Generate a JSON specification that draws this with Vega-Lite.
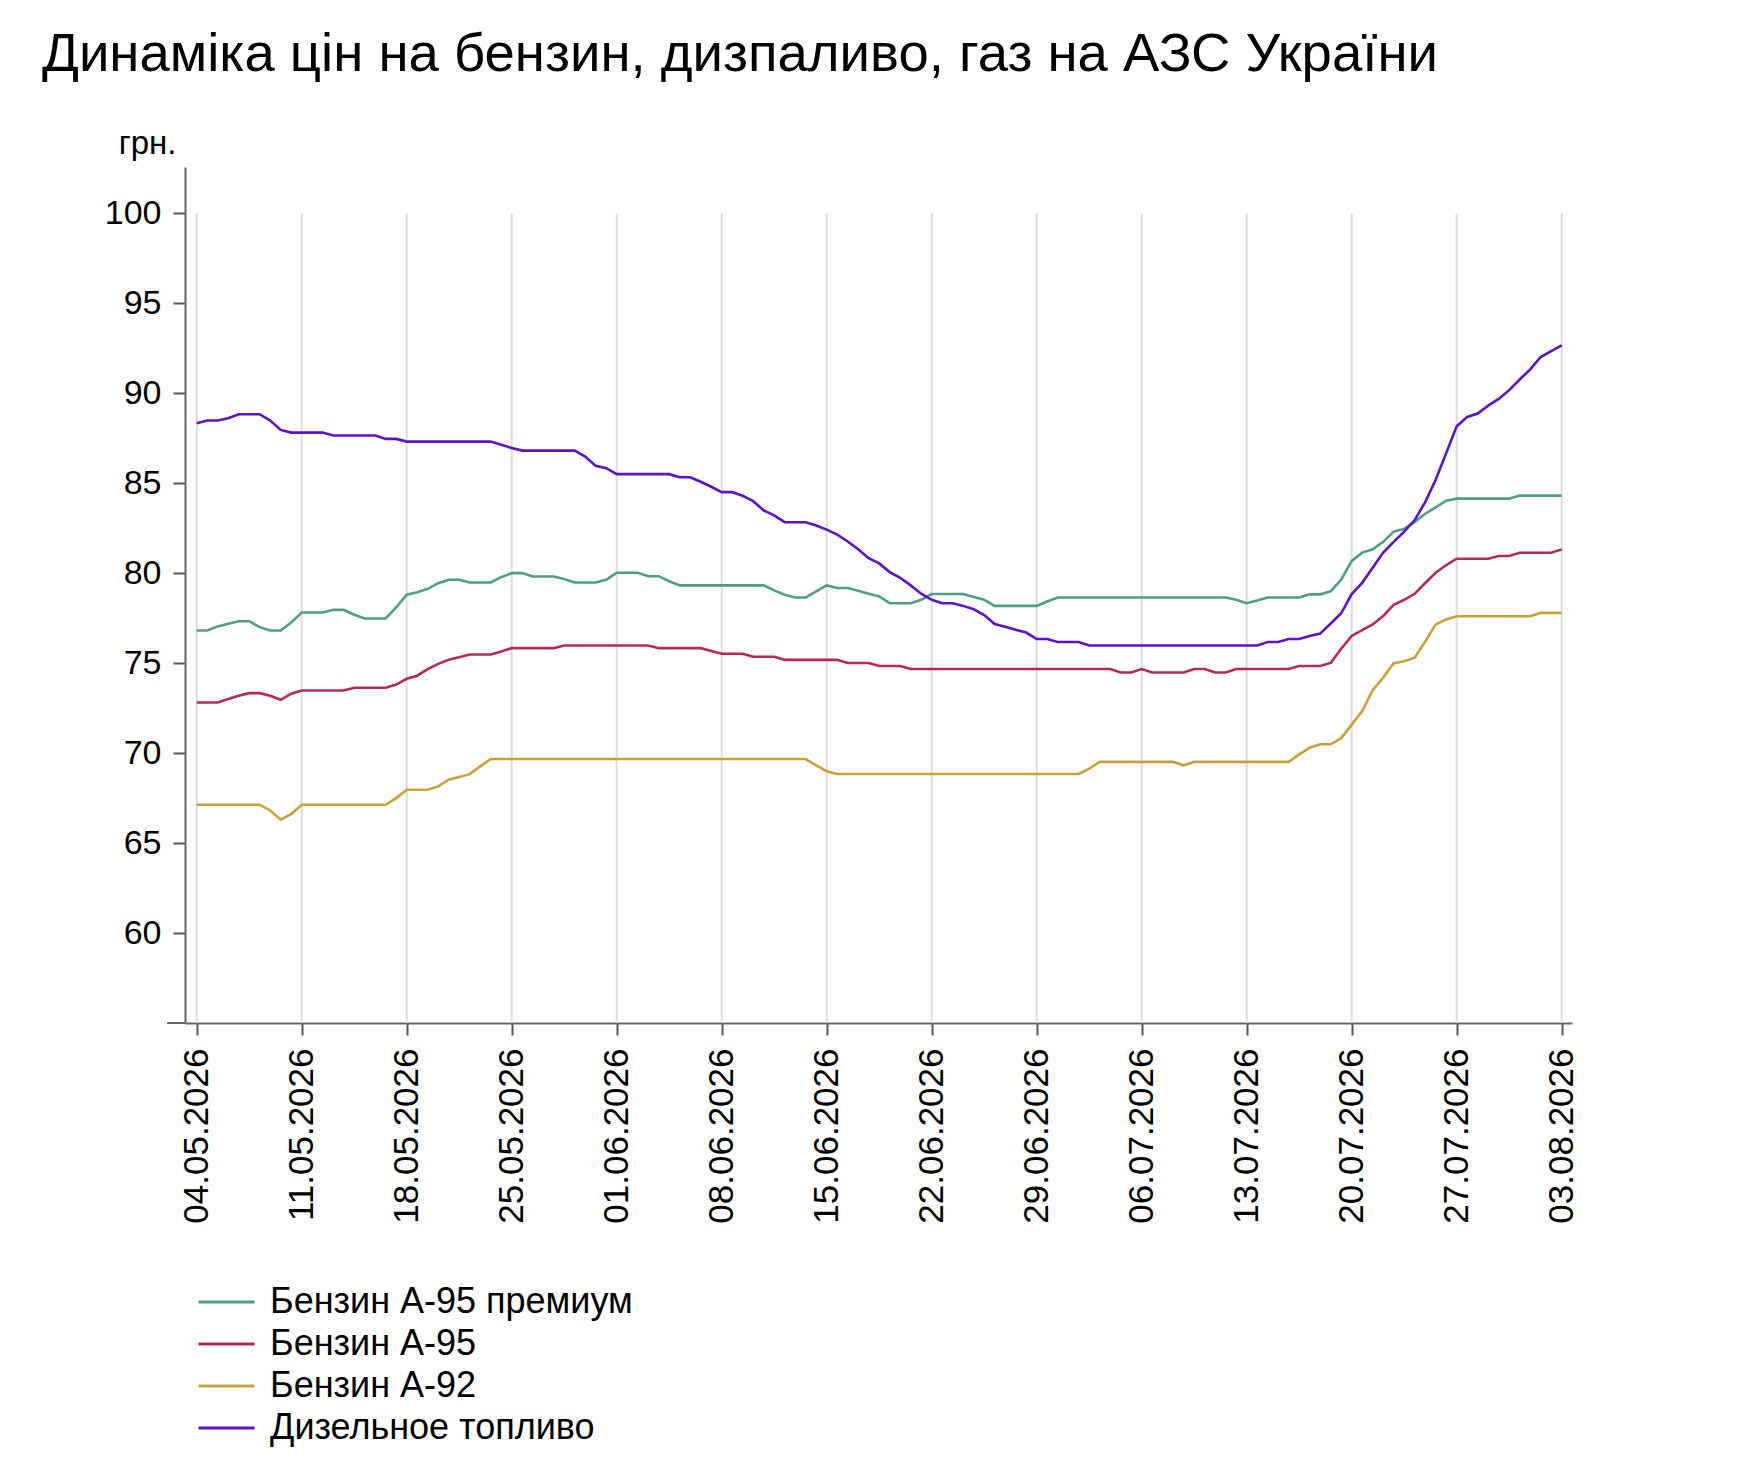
{
  "$schema": "https://vega.github.io/schema/vega-lite/v6.json",
  "width": 1387,
  "height": 856,
  "autosize": {"type": "none"},
  "padding": {"left": 185, "top": 167, "right": 166, "bottom": 455},
  "background": "white",
  "title": {
    "text": "Динаміка цін на бензин, дизпаливо, газ на АЗС України",
    "anchor": "start",
    "frame": "group",
    "font": "Liberation Sans",
    "fontSize": 54.5,
    "fontWeight": "normal",
    "color": "#000000",
    "baseline": "alphabetic",
    "dx": -143,
    "offset": 2
  },
  "datasets": {
    "weeks": [
      {"t": "2026-05-04T00:00"}, {"t": "2026-05-11T00:00"}, {"t": "2026-05-18T00:00"},
      {"t": "2026-05-25T00:00"}, {"t": "2026-06-01T00:00"}, {"t": "2026-06-08T00:00"},
      {"t": "2026-06-15T00:00"}, {"t": "2026-06-22T00:00"}, {"t": "2026-06-29T00:00"},
      {"t": "2026-07-06T00:00"}, {"t": "2026-07-13T00:00"}, {"t": "2026-07-20T00:00"},
      {"t": "2026-07-27T00:00"}, {"t": "2026-08-03T00:00"}
    ],
    "prices": [
      {"t": "2026-05-04T00:00", "p": 76.81, "a": 72.81, "b": 67.13, "d": 88.33},
      {"t": "2026-05-04T16:48", "p": 76.81, "a": 72.81, "b": 67.13, "d": 88.48},
      {"t": "2026-05-05T09:36", "p": 77.04, "a": 72.81, "b": 67.13, "d": 88.48},
      {"t": "2026-05-06T02:24", "p": 77.19, "a": 73.0, "b": 67.13, "d": 88.61},
      {"t": "2026-05-06T19:12", "p": 77.33, "a": 73.19, "b": 67.13, "d": 88.83},
      {"t": "2026-05-07T12:00", "p": 77.33, "a": 73.33, "b": 67.13, "d": 88.83},
      {"t": "2026-05-08T04:48", "p": 77.0, "a": 73.33, "b": 67.13, "d": 88.83},
      {"t": "2026-05-08T21:36", "p": 76.81, "a": 73.19, "b": 66.81, "d": 88.48},
      {"t": "2026-05-09T14:24", "p": 76.81, "a": 72.96, "b": 66.3, "d": 87.96},
      {"t": "2026-05-10T07:12", "p": 77.26, "a": 73.3, "b": 66.61, "d": 87.81},
      {"t": "2026-05-11T00:00", "p": 77.81, "a": 73.48, "b": 67.13, "d": 87.81},
      {"t": "2026-05-11T16:48", "p": 77.81, "a": 73.48, "b": 67.13, "d": 87.81},
      {"t": "2026-05-12T09:36", "p": 77.81, "a": 73.48, "b": 67.13, "d": 87.81},
      {"t": "2026-05-13T02:24", "p": 77.96, "a": 73.48, "b": 67.13, "d": 87.65},
      {"t": "2026-05-13T19:12", "p": 77.96, "a": 73.48, "b": 67.13, "d": 87.65},
      {"t": "2026-05-14T12:00", "p": 77.69, "a": 73.63, "b": 67.13, "d": 87.65},
      {"t": "2026-05-15T04:48", "p": 77.48, "a": 73.63, "b": 67.13, "d": 87.65},
      {"t": "2026-05-15T21:36", "p": 77.48, "a": 73.63, "b": 67.13, "d": 87.65},
      {"t": "2026-05-16T14:24", "p": 77.48, "a": 73.63, "b": 67.13, "d": 87.46},
      {"t": "2026-05-17T07:12", "p": 78.09, "a": 73.81, "b": 67.5, "d": 87.46},
      {"t": "2026-05-18T00:00", "p": 78.8, "a": 74.13, "b": 67.96, "d": 87.31},
      {"t": "2026-05-18T16:48", "p": 78.94, "a": 74.3, "b": 67.96, "d": 87.31},
      {"t": "2026-05-19T09:36", "p": 79.13, "a": 74.67, "b": 67.96, "d": 87.31},
      {"t": "2026-05-20T02:24", "p": 79.44, "a": 74.96, "b": 68.15, "d": 87.31},
      {"t": "2026-05-20T19:12", "p": 79.63, "a": 75.19, "b": 68.52, "d": 87.31},
      {"t": "2026-05-21T12:00", "p": 79.63, "a": 75.33, "b": 68.67, "d": 87.31},
      {"t": "2026-05-22T04:48", "p": 79.48, "a": 75.48, "b": 68.83, "d": 87.31},
      {"t": "2026-05-22T21:36", "p": 79.48, "a": 75.48, "b": 69.26, "d": 87.31},
      {"t": "2026-05-23T14:24", "p": 79.48, "a": 75.48, "b": 69.67, "d": 87.31},
      {"t": "2026-05-24T07:12", "p": 79.78, "a": 75.65, "b": 69.67, "d": 87.13},
      {"t": "2026-05-25T00:00", "p": 80.0, "a": 75.83, "b": 69.67, "d": 86.96},
      {"t": "2026-05-25T16:48", "p": 80.0, "a": 75.83, "b": 69.67, "d": 86.81},
      {"t": "2026-05-26T09:36", "p": 79.81, "a": 75.83, "b": 69.67, "d": 86.81},
      {"t": "2026-05-27T02:24", "p": 79.81, "a": 75.83, "b": 69.67, "d": 86.81},
      {"t": "2026-05-27T19:12", "p": 79.81, "a": 75.83, "b": 69.67, "d": 86.81},
      {"t": "2026-05-28T12:00", "p": 79.67, "a": 75.98, "b": 69.67, "d": 86.81},
      {"t": "2026-05-29T04:48", "p": 79.48, "a": 75.98, "b": 69.67, "d": 86.81},
      {"t": "2026-05-29T21:36", "p": 79.48, "a": 75.98, "b": 69.67, "d": 86.48},
      {"t": "2026-05-30T14:24", "p": 79.48, "a": 75.98, "b": 69.67, "d": 85.96},
      {"t": "2026-05-31T07:12", "p": 79.63, "a": 75.98, "b": 69.67, "d": 85.83},
      {"t": "2026-06-01T00:00", "p": 80.02, "a": 75.98, "b": 69.67, "d": 85.5},
      {"t": "2026-06-01T16:48", "p": 80.02, "a": 75.98, "b": 69.67, "d": 85.5},
      {"t": "2026-06-02T09:36", "p": 80.02, "a": 75.98, "b": 69.67, "d": 85.5},
      {"t": "2026-06-03T02:24", "p": 79.83, "a": 75.98, "b": 69.67, "d": 85.5},
      {"t": "2026-06-03T19:12", "p": 79.83, "a": 75.83, "b": 69.67, "d": 85.5},
      {"t": "2026-06-04T12:00", "p": 79.55, "a": 75.83, "b": 69.67, "d": 85.5},
      {"t": "2026-06-05T04:48", "p": 79.32, "a": 75.83, "b": 69.67, "d": 85.33},
      {"t": "2026-06-05T21:36", "p": 79.32, "a": 75.83, "b": 69.67, "d": 85.33},
      {"t": "2026-06-06T14:24", "p": 79.32, "a": 75.83, "b": 69.67, "d": 85.08},
      {"t": "2026-06-07T07:12", "p": 79.32, "a": 75.67, "b": 69.67, "d": 84.8},
      {"t": "2026-06-08T00:00", "p": 79.32, "a": 75.52, "b": 69.67, "d": 84.5},
      {"t": "2026-06-08T16:48", "p": 79.32, "a": 75.52, "b": 69.67, "d": 84.5},
      {"t": "2026-06-09T09:36", "p": 79.32, "a": 75.52, "b": 69.67, "d": 84.3},
      {"t": "2026-06-10T02:24", "p": 79.32, "a": 75.35, "b": 69.67, "d": 84.0},
      {"t": "2026-06-10T19:12", "p": 79.32, "a": 75.35, "b": 69.67, "d": 83.49},
      {"t": "2026-06-11T12:00", "p": 79.04, "a": 75.35, "b": 69.67, "d": 83.21},
      {"t": "2026-06-12T04:48", "p": 78.8, "a": 75.18, "b": 69.67, "d": 82.83},
      {"t": "2026-06-12T21:36", "p": 78.65, "a": 75.18, "b": 69.67, "d": 82.83},
      {"t": "2026-06-13T14:24", "p": 78.65, "a": 75.18, "b": 69.67, "d": 82.83},
      {"t": "2026-06-14T07:12", "p": 78.99, "a": 75.18, "b": 69.32, "d": 82.65},
      {"t": "2026-06-15T00:00", "p": 79.32, "a": 75.18, "b": 68.99, "d": 82.42},
      {"t": "2026-06-15T16:48", "p": 79.17, "a": 75.18, "b": 68.84, "d": 82.14},
      {"t": "2026-06-16T09:36", "p": 79.17, "a": 75.01, "b": 68.84, "d": 81.76},
      {"t": "2026-06-17T02:24", "p": 79.02, "a": 75.01, "b": 68.84, "d": 81.33},
      {"t": "2026-06-17T19:12", "p": 78.86, "a": 75.01, "b": 68.84, "d": 80.83},
      {"t": "2026-06-18T12:00", "p": 78.71, "a": 74.84, "b": 68.84, "d": 80.54},
      {"t": "2026-06-19T04:48", "p": 78.33, "a": 74.84, "b": 68.84, "d": 80.06},
      {"t": "2026-06-19T21:36", "p": 78.33, "a": 74.84, "b": 68.84, "d": 79.74},
      {"t": "2026-06-20T14:24", "p": 78.33, "a": 74.67, "b": 68.84, "d": 79.32},
      {"t": "2026-06-21T07:12", "p": 78.52, "a": 74.67, "b": 68.84, "d": 78.86},
      {"t": "2026-06-22T00:00", "p": 78.84, "a": 74.67, "b": 68.84, "d": 78.52},
      {"t": "2026-06-22T16:48", "p": 78.84, "a": 74.67, "b": 68.84, "d": 78.33},
      {"t": "2026-06-23T09:36", "p": 78.84, "a": 74.67, "b": 68.84, "d": 78.33},
      {"t": "2026-06-24T02:24", "p": 78.84, "a": 74.67, "b": 68.84, "d": 78.18},
      {"t": "2026-06-24T19:12", "p": 78.67, "a": 74.67, "b": 68.84, "d": 77.99},
      {"t": "2026-06-25T12:00", "p": 78.52, "a": 74.67, "b": 68.84, "d": 77.67},
      {"t": "2026-06-26T04:48", "p": 78.18, "a": 74.67, "b": 68.84, "d": 77.17},
      {"t": "2026-06-26T21:36", "p": 78.18, "a": 74.67, "b": 68.84, "d": 77.02},
      {"t": "2026-06-27T14:24", "p": 78.18, "a": 74.67, "b": 68.84, "d": 76.85},
      {"t": "2026-06-28T07:12", "p": 78.18, "a": 74.67, "b": 68.84, "d": 76.7},
      {"t": "2026-06-29T00:00", "p": 78.18, "a": 74.67, "b": 68.84, "d": 76.34},
      {"t": "2026-06-29T16:48", "p": 78.42, "a": 74.67, "b": 68.84, "d": 76.34},
      {"t": "2026-06-30T09:36", "p": 78.65, "a": 74.67, "b": 68.84, "d": 76.17},
      {"t": "2026-07-01T02:24", "p": 78.65, "a": 74.67, "b": 68.84, "d": 76.17},
      {"t": "2026-07-01T19:12", "p": 78.65, "a": 74.67, "b": 68.84, "d": 76.17},
      {"t": "2026-07-02T12:00", "p": 78.65, "a": 74.67, "b": 69.14, "d": 75.98},
      {"t": "2026-07-03T04:48", "p": 78.65, "a": 74.67, "b": 69.51, "d": 75.98},
      {"t": "2026-07-03T21:36", "p": 78.65, "a": 74.67, "b": 69.51, "d": 75.98},
      {"t": "2026-07-04T14:24", "p": 78.65, "a": 74.48, "b": 69.51, "d": 75.98},
      {"t": "2026-07-05T07:12", "p": 78.65, "a": 74.48, "b": 69.51, "d": 75.98},
      {"t": "2026-07-06T00:00", "p": 78.65, "a": 74.67, "b": 69.51, "d": 75.98},
      {"t": "2026-07-06T16:48", "p": 78.65, "a": 74.48, "b": 69.51, "d": 75.98},
      {"t": "2026-07-07T09:36", "p": 78.65, "a": 74.48, "b": 69.51, "d": 75.98},
      {"t": "2026-07-08T02:24", "p": 78.65, "a": 74.48, "b": 69.51, "d": 75.98},
      {"t": "2026-07-08T19:12", "p": 78.65, "a": 74.48, "b": 69.32, "d": 75.98},
      {"t": "2026-07-09T12:00", "p": 78.65, "a": 74.67, "b": 69.51, "d": 75.98},
      {"t": "2026-07-10T04:48", "p": 78.65, "a": 74.67, "b": 69.51, "d": 75.98},
      {"t": "2026-07-10T21:36", "p": 78.65, "a": 74.48, "b": 69.51, "d": 75.98},
      {"t": "2026-07-11T14:24", "p": 78.65, "a": 74.48, "b": 69.51, "d": 75.98},
      {"t": "2026-07-12T07:12", "p": 78.52, "a": 74.67, "b": 69.51, "d": 75.98},
      {"t": "2026-07-13T00:00", "p": 78.33, "a": 74.67, "b": 69.51, "d": 75.98},
      {"t": "2026-07-13T16:48", "p": 78.48, "a": 74.67, "b": 69.51, "d": 75.98},
      {"t": "2026-07-14T09:36", "p": 78.65, "a": 74.67, "b": 69.51, "d": 76.17},
      {"t": "2026-07-15T02:24", "p": 78.65, "a": 74.67, "b": 69.51, "d": 76.17},
      {"t": "2026-07-15T19:12", "p": 78.65, "a": 74.67, "b": 69.51, "d": 76.34},
      {"t": "2026-07-16T12:00", "p": 78.65, "a": 74.84, "b": 69.93, "d": 76.34},
      {"t": "2026-07-17T04:48", "p": 78.82, "a": 74.84, "b": 70.3, "d": 76.51},
      {"t": "2026-07-17T21:36", "p": 78.82, "a": 74.84, "b": 70.49, "d": 76.64},
      {"t": "2026-07-18T14:24", "p": 78.99, "a": 75.01, "b": 70.49, "d": 77.2},
      {"t": "2026-07-19T07:12", "p": 79.64, "a": 75.8, "b": 70.83, "d": 77.77},
      {"t": "2026-07-20T00:00", "p": 80.68, "a": 76.51, "b": 71.58, "d": 78.84},
      {"t": "2026-07-20T16:48", "p": 81.14, "a": 76.83, "b": 72.33, "d": 79.46},
      {"t": "2026-07-21T09:36", "p": 81.33, "a": 77.15, "b": 73.49, "d": 80.3},
      {"t": "2026-07-22T02:24", "p": 81.74, "a": 77.62, "b": 74.2, "d": 81.14},
      {"t": "2026-07-22T19:12", "p": 82.31, "a": 78.24, "b": 74.99, "d": 81.74},
      {"t": "2026-07-23T12:00", "p": 82.46, "a": 78.52, "b": 75.1, "d": 82.31},
      {"t": "2026-07-24T04:48", "p": 82.85, "a": 78.85, "b": 75.3, "d": 82.95},
      {"t": "2026-07-24T21:36", "p": 83.3, "a": 79.45, "b": 76.2, "d": 83.95},
      {"t": "2026-07-25T14:24", "p": 83.66, "a": 80.02, "b": 77.15, "d": 85.19},
      {"t": "2026-07-26T07:12", "p": 84.03, "a": 80.45, "b": 77.42, "d": 86.67},
      {"t": "2026-07-27T00:00", "p": 84.14, "a": 80.8, "b": 77.6, "d": 88.16},
      {"t": "2026-07-27T16:48", "p": 84.14, "a": 80.8, "b": 77.6, "d": 88.68},
      {"t": "2026-07-28T09:36", "p": 84.14, "a": 80.8, "b": 77.6, "d": 88.87},
      {"t": "2026-07-29T02:24", "p": 84.14, "a": 80.8, "b": 77.6, "d": 89.31},
      {"t": "2026-07-29T19:12", "p": 84.14, "a": 80.95, "b": 77.6, "d": 89.68},
      {"t": "2026-07-30T12:00", "p": 84.14, "a": 80.95, "b": 77.6, "d": 90.17},
      {"t": "2026-07-31T04:48", "p": 84.31, "a": 81.13, "b": 77.6, "d": 90.76},
      {"t": "2026-07-31T21:36", "p": 84.31, "a": 81.13, "b": 77.6, "d": 91.32},
      {"t": "2026-08-01T14:24", "p": 84.31, "a": 81.13, "b": 77.79, "d": 92.01},
      {"t": "2026-08-02T07:12", "p": 84.31, "a": 81.13, "b": 77.79, "d": 92.34},
      {"t": "2026-08-03T00:00", "p": 84.31, "a": 81.32, "b": 77.79, "d": 92.66}
    ]
  },
  "layer": [
    {
      "data": {"name": "weeks"},
      "mark": {"type": "rule", "color": "#dddddd", "strokeWidth": 2},
      "encoding": {
        "x": {"field": "t", "type": "temporal"},
        "y": {"datum": 55, "type": "quantitative"},
        "y2": {"datum": 100}
      }
    },
    {
      "data": {"values": [{}]},
      "mark": {"type": "rule", "color": "#666666", "strokeWidth": 2},
      "encoding": {
        "x": {"datum": {"year": 2026, "month": 5, "date": 2, "hours": 0, "minutes": 29}, "type": "temporal"},
        "x2": {"datum": {"year": 2026, "month": 5, "date": 3, "hours": 5, "minutes": 17}},
        "y": {"datum": 55, "type": "quantitative"}
      }
    },
    {
      "data": {"name": "prices"},
      "transform": [
        {"fold": ["p", "a", "b", "d"], "as": ["s", "v"]}
      ],
      "mark": {"type": "line", "strokeWidth": 2.6, "interpolate": "linear"},
      "encoding": {
        "x": {
          "field": "t",
          "type": "temporal",
          "title": null,
          "scale": {
            "domain": [
              {"year": 2026, "month": 5, "date": 3, "hours": 5, "minutes": 17},
              {"year": 2026, "month": 8, "date": 3, "hours": 16, "minutes": 30}
            ]
          },
          "axis": {
            "values": [
              {"year": 2026, "month": 5, "date": 4},
              {"year": 2026, "month": 5, "date": 11},
              {"year": 2026, "month": 5, "date": 18},
              {"year": 2026, "month": 5, "date": 25},
              {"year": 2026, "month": 6, "date": 1},
              {"year": 2026, "month": 6, "date": 8},
              {"year": 2026, "month": 6, "date": 15},
              {"year": 2026, "month": 6, "date": 22},
              {"year": 2026, "month": 6, "date": 29},
              {"year": 2026, "month": 7, "date": 6},
              {"year": 2026, "month": 7, "date": 13},
              {"year": 2026, "month": 7, "date": 20},
              {"year": 2026, "month": 7, "date": 27},
              {"year": 2026, "month": 8, "date": 3}
            ],
            "grid": false,
            "format": "%d.%m.%Y",
            "labelAngle": -90,
            "labelFontSize": 35,
            "labelPadding": 13,
            "labelOverlap": false,
            "labelBound": false,
            "labelFlush": false
          }
        },
        "y": {
          "field": "v",
          "type": "quantitative",
          "scale": {"domain": [55, 102.57], "nice": false, "zero": false},
          "axis": {
            "values": [60, 65, 70, 75, 80, 85, 90, 95, 100],
            "title": "грн.",
            "titleAngle": 0,
            "titleAlign": "right",
            "titleBaseline": "alphabetic",
            "titleX": -9,
            "titleY": -14,
            "titleFontSize": 33,
            "titleFontWeight": "normal",
            "titleFont": "Liberation Sans",
            "titleColor": "#000000",
            "labelFontSize": 34,
            "labelPadding": 12
          }
        },
        "color": {
          "field": "s",
          "type": "nominal",
          "scale": {
            "domain": ["p", "a", "b", "d"],
            "range": ["#4d9e84", "#b5285c", "#c8a13a", "#5b12c9"]
          },
          "legend": {
            "title": null,
            "orient": "none",
            "legendX": 12,
            "legendY": 1114,
            "direction": "vertical",
            "padding": 0,
            "symbolType": "stroke",
            "symbolSize": 3136,
            "symbolStrokeWidth": 3,
            "clipHeight": 42,
            "rowPadding": 0,
            "labelOffset": 14,
            "labelFontSize": 36,
            "labelFont": "Liberation Sans",
            "labelColor": "#000000",
            "labelLimit": 0,
            "labelExpr": "datum.label == 'p' ? 'Бензин А-95 премиум' : datum.label == 'a' ? 'Бензин А-95' : datum.label == 'b' ? 'Бензин А-92' : 'Дизельное топливо'"
          }
        }
      }
    }
  ],
  "config": {
    "view": {"stroke": null},
    "axis": {
      "labelFont": "Liberation Sans",
      "labelColor": "#000000",
      "domainColor": "#666666",
      "domainWidth": 2,
      "tickColor": "#555555",
      "tickWidth": 2,
      "tickSize": 12,
      "gridColor": "#dddddd",
      "gridWidth": 2
    }
  }
}
